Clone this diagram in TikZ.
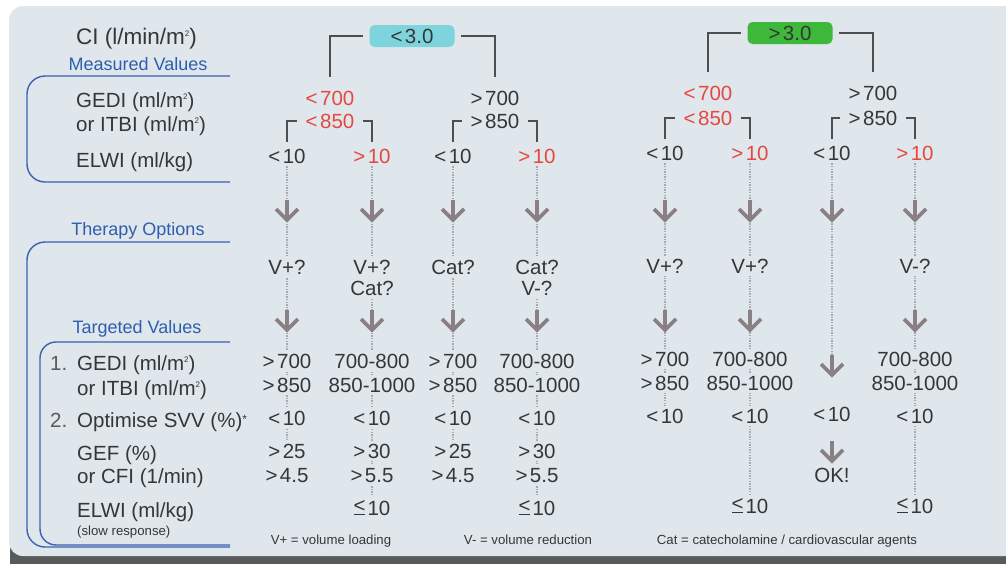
\documentclass[tikz,border=0pt]{standalone}
\usepackage{fontspec}
\setmainfont{Liberation Sans}
\definecolor{cardbg}{HTML}{DFE6EC}
\definecolor{shadowc}{HTML}{575C5A}
\definecolor{txt}{HTML}{363636}
\definecolor{numc}{HTML}{5A5A5A}
\definecolor{redv}{HTML}{E5483E}
\definecolor{bluet}{HTML}{2F5EAE}
\definecolor{bline}{HTML}{3A62B2}
\definecolor{agray}{HTML}{8A7F82}
\definecolor{dotc}{HTML}{A6ABB0}
\definecolor{cyanb}{HTML}{7ED4DC}
\definecolor{greenb}{HTML}{3DB83A}
\definecolor{brkc}{HTML}{4E4E4E}
\newcommand\LTk{<\kern2.5pt}
\newcommand\GTk{>\kern2.5pt}
\newcommand\LEk{\makebox{\rlap{\kern0.6pt\rule[-0.2pt]{11pt}{1.4pt}}\raisebox{3pt}{<}}\kern2pt}
\newcommand\sqd{\raisebox{8pt}{\fontsize{8}{8}\selectfont 2}}
\pgfdeclarelayer{card}
\pgfdeclarelayer{dots}
\pgfsetlayers{card,dots,main}
\begin{document}
\begin{tikzpicture}[x=1pt,y=-1pt,
  val/.style={font=\fontsize{20.5}{24}\selectfont, text=txt, fill=cardbg, inner xsep=1pt, inner ysep=3pt, anchor=base},
  rval/.style={val, text=redv},
  lab/.style={font=\fontsize{20.5}{24}\selectfont, text=txt, anchor=base west, inner sep=0pt},
  numlab/.style={lab, text=numc},
  sect/.style={font=\fontsize{18}{20}\selectfont, text=bluet, inner sep=0pt, anchor=base},
  smalltxt/.style={font=\fontsize{13.2}{15}\selectfont, text=txt, inner sep=0pt, anchor=base},
  boxc/.style={font=\fontsize{20.5}{24}\selectfont, text=txt, rounded corners=5pt, minimum width=85pt, minimum height=22pt, inner sep=0pt},
  bluebr/.style={draw=bline, line width=1.4pt, rounded corners=18pt},
  brk/.style={draw=brkc, line width=1.6pt},
  dotline/.style={draw=dotc, line width=1.3pt, dash pattern=on 1.3pt off 1.3pt},
  dnarrow/.pic={
    \draw[agray, line width=3.8pt, line cap=butt] (0,-12) -- (0,6);
    \draw[agray, line width=3.8pt, line join=miter] (-11,-3) -- (0,8) -- (11,-3);
  }
]
\useasboundingbox (0,0) rectangle (1006,563);
\begin{pgfonlayer}{card}
  \fill[white] (0,0) rectangle (1006,563);
  \fill[shadowc, rounded corners=14pt] (10,30) rectangle (1030,585);
  \fill[cardbg, rounded corners=14pt] (9,6) rectangle (1030,556);
\end{pgfonlayer}

% ---------- left labels ----------
\node[lab, font=\fontsize{22.5}{26}\selectfont] (ci) at (76,44) {CI (l/min/m\sqd)};
\node[sect] (mv) at (138,70) {Measured Values};
\node[lab] (gedi1) at (76,107) {GEDI (ml/m\sqd)};
\node[lab] (itbi1) at (76,131) {or ITBI (ml/m\sqd)};
\node[lab] (elwi1) at (76,167) {ELWI (ml/kg)};
\node[sect] (to) at (138,235) {Therapy Options};
\node[sect] (tv) at (137,333) {Targeted Values};
\node[numlab] (n1) at (50,370) {1.};
\node[lab] (gedi2) at (77,370) {GEDI (ml/m\sqd)};
\node[lab] (itbi2) at (77,395) {or ITBI (ml/m\sqd)};
\node[numlab] (n2) at (50,427) {2.};
\node[lab] (svv) at (77,427) {Optimise SVV (\%)\raisebox{4pt}{\fontsize{12}{12}\selectfont *}};
\node[lab] (gef) at (77,460) {GEF (\%)};
\node[lab] (cfi) at (77,483) {or CFI (1/min)};
\node[lab] (elwi2) at (77,517) {ELWI (ml/kg)};
\node[smalltxt, anchor=base west] (slow) at (77,535) {(slow response)};

% section brackets
\draw[bluebr] (230,76) -- (27,76) -- (27,182) -- (230,182);
\draw[bluebr] (230,242) -- (27,242) -- (27,547) -- (230,547);
\draw[bluebr, rounded corners=16pt] (230,342) -- (40,342) -- (40,545) -- (230,545);

% ---------- top: CI < 3.0 ----------
\node[boxc, fill=cyanb] (lo) at (412,36) {\LTk 3.0};
\node[rval] (l700) at (330,105) {\LTk 700};
\node[val] (g700) at (495,105) {\GTk 700};
\node[rval] (l850) at (330,128) {\LTk 850};
\node[val] (g850) at (495,128) {\GTk 850};
\node[val] (c1) at (287,163) {\LTk 10};
\node[rval] (c2) at (372,163) {\GTk 10};
\node[val] (c3) at (453,163) {\LTk 10};
\node[rval] (c4) at (537,163) {\GTk 10};

% ---------- top: CI > 3.0 ----------
\node[boxc, fill=greenb] (hi) at (790,33) {\GTk 3.0};
\node[rval] (rl700) at (708,100) {\LTk 700};
\node[val] (rg700) at (873,100) {\GTk 700};
\node[rval] (rl850) at (708,125) {\LTk 850};
\node[val] (rg850) at (873,125) {\GTk 850};
\node[val] (c5) at (665,160) {\LTk 10};
\node[rval] (c6) at (750,160) {\GTk 10};
\node[val] (c7) at (832,160) {\LTk 10};
\node[rval] (c8) at (915,160) {\GTk 10};

% brackets
\draw[brk] ([xshift=-6pt]lo.west) -| ([yshift=10pt]l700.north);
\draw[brk] ([xshift=6pt]lo.east) -| ([yshift=10pt]g700.north);
\draw[brk] ([xshift=-7pt]l850.west) -| ([yshift=3pt]c1.north);
\draw[brk] ([xshift=7pt]l850.east) -| ([yshift=3pt]c2.north);
\draw[brk] ([xshift=-7pt]g850.west) -| ([yshift=3pt]c3.north);
\draw[brk] ([xshift=7pt]g850.east) -| ([yshift=3pt]c4.north);
\draw[brk] ([xshift=-6pt]hi.west) -| ([yshift=10pt]rl700.north);
\draw[brk] ([xshift=6pt]hi.east) -| ([yshift=10pt]rg700.north);
\draw[brk] ([xshift=-7pt]rl850.west) -| ([yshift=3pt]c5.north);
\draw[brk] ([xshift=7pt]rl850.east) -| ([yshift=3pt]c6.north);
\draw[brk] ([xshift=-7pt]rg850.west) -| ([yshift=3pt]c7.north);
\draw[brk] ([xshift=7pt]rg850.east) -| ([yshift=3pt]c8.north);

% ---------- therapy options ----------
\node[val] (t1) at (287,274) {V+?};
\node[val] (t2a) at (372,274) {V+?};
\node[val] (t2b) at (372,295) {Cat?};
\node[val] (t3) at (453,274) {Cat?};
\node[val] (t4a) at (537,274) {Cat?};
\node[val] (t4b) at (537,295) {V-?};
\node[val] (t5) at (665,273) {V+?};
\node[val] (t6) at (750,273) {V+?};
\node[val] (t8) at (915,273) {V-?};

% ---------- targeted values ----------
\node[val] (v1a) at (287,368) {\GTk 700};
\node[val] (v1b) at (287,392) {\GTk 850};
\node[val] (v2a) at (372,368) {700-800};
\node[val] (v2b) at (372,392) {850-1000};
\node[val] (v3a) at (453,368) {\GTk 700};
\node[val] (v3b) at (453,392) {\GTk 850};
\node[val] (v4a) at (537,368) {700-800};
\node[val] (v4b) at (537,392) {850-1000};
\node[val] (v5a) at (665,366) {\GTk 700};
\node[val] (v5b) at (665,390) {\GTk 850};
\node[val] (v6a) at (750,366) {700-800};
\node[val] (v6b) at (750,390) {850-1000};
\node[val] (v8a) at (915,366) {700-800};
\node[val] (v8b) at (915,390) {850-1000};

\node[val] (s1) at (287,425) {\LTk 10};
\node[val] (s2) at (372,425) {\LTk 10};
\node[val] (s3) at (453,425) {\LTk 10};
\node[val] (s4) at (537,425) {\LTk 10};
\node[val] (s5) at (665,423) {\LTk 10};
\node[val] (s6) at (750,423) {\LTk 10};
\node[val] (s7) at (832,421) {\LTk 10};
\node[val] (s8) at (915,423) {\LTk 10};

\node[val] (g1a) at (287,458) {\GTk 25};
\node[val] (g1b) at (287,482) {\GTk 4.5};
\node[val] (g2a) at (372,458) {\GTk 30};
\node[val] (g2b) at (372,482) {\GTk 5.5};
\node[val] (g3a) at (453,458) {\GTk 25};
\node[val] (g3b) at (453,482) {\GTk 4.5};
\node[val] (g4a) at (537,458) {\GTk 30};
\node[val] (g4b) at (537,482) {\GTk 5.5};
\node[val] (ok7) at (832,482) {OK!};

\node[val] (e2) at (372,515) {\LEk 10};
\node[val] (e4) at (537,515) {\LEk 10};
\node[val] (e6) at (750,513) {\LEk 10};
\node[val] (e8) at (915,513) {\LEk 10};

% ---------- legend ----------
\node[smalltxt] (leg1) at (331,544) {V+ = volume loading};
\node[smalltxt] (leg2) at (528,544) {V- = volume reduction};
\node[smalltxt] (leg3) at (787,544) {Cat = catecholamine / cardiovascular agents};

% ---------- arrows ----------
\foreach \x/\n in {287/1,372/2,453/3,537/4,665/5,750/6,832/7,915/8}{
  \pic (ar\n) at (\x,212) {dnarrow};
}
\foreach \x/\n in {287/1,372/2,453/3,537/4,665/5,750/6,915/8}{
  \pic (br\n) at (\x,322) {dnarrow};
}
\pic (cr7) at (832,367) {dnarrow};
\pic (dr7) at (832,453) {dnarrow};
\coordinate (end7) at (832,360);

% ---------- dotted guides ----------
\begin{pgfonlayer}{dots}
  \draw[dotline] (c1.south) -- (g1a.north);
  \draw[dotline] (c2.south) -- (e2.north);
  \draw[dotline] (c3.south) -- (g3a.north);
  \draw[dotline] (c4.south) -- (e4.north);
  \draw[dotline] (c5.south) -- (s5.north);
  \draw[dotline] (c6.south) -- (e6.north);
  \draw[dotline] (c7.south) -- (end7);
  \draw[dotline] (c8.south) -- (e8.north);
\end{pgfonlayer}
\end{tikzpicture}
\end{document}
